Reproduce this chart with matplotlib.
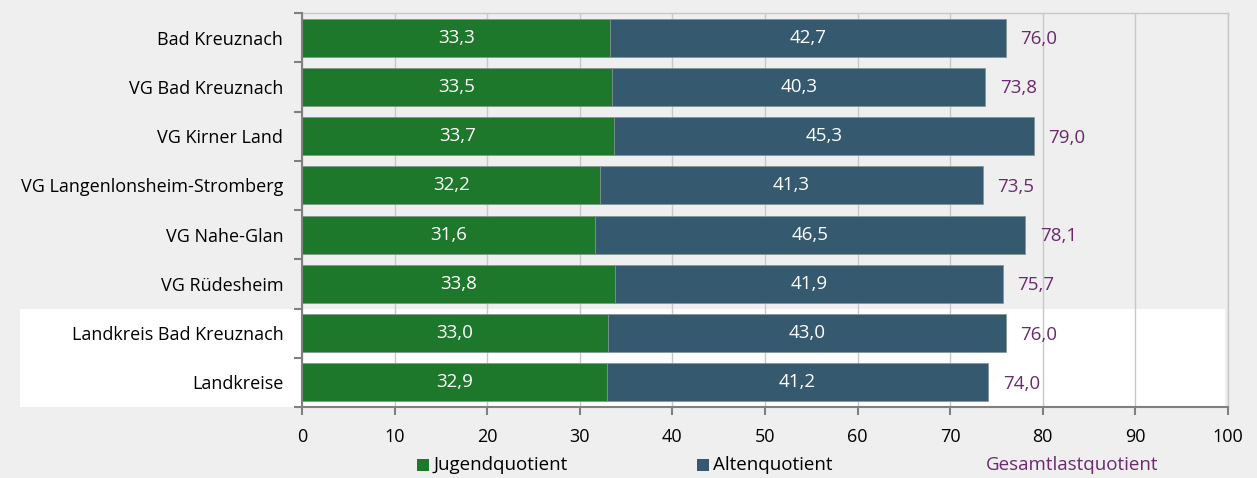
import matplotlib
matplotlib.use("Agg")
import matplotlib.pyplot as plt
from matplotlib.patches import Rectangle
import numpy as np

categories = ["Bad Kreuznach", "VG Bad Kreuznach", "VG Kirner Land",
              "VG Langenlonsheim-Stromberg", "VG Nahe-Glan", "VG Rüdesheim",
              "Landkreis Bad Kreuznach", "Landkreise"]
jugend = [33.3, 33.5, 33.7, 32.2, 31.6, 33.8, 33.0, 32.9]
alten = [42.7, 40.3, 45.3, 41.3, 46.5, 41.9, 43.0, 41.2]
gesamt = [76.0, 73.8, 79.0, 73.5, 78.1, 75.7, 76.0, 74.0]
xticks = [0, 10, 20, 30, 40, 50, 60, 70, 80, 90, 100]

GREEN = "#1e782b"
BLUE = "#35596f"
PURPLE = "#6b2a6e"
BG = "#eeefee"

plt.rcParams['font.family'] = ['Open Sans', 'DejaVu Sans']

W, H = 1257, 478
fig = plt.figure(figsize=(W / 100, H / 100), dpi=100, facecolor=BG)
ax = fig.add_axes([302 / W, 1 - 407 / H, (1228 - 302) / W, (407 - 13) / H])
ax.set_facecolor('none')

# white band behind last two rows
fig.patches.append(Rectangle((20 / W, 1 - 407 / H), (1225 - 20) / W, (407 - 309) / H,
                             transform=fig.transFigure, facecolor='white',
                             edgecolor='none', zorder=-10))

y = np.arange(len(categories))
h = 0.77
ax.barh(y, jugend, height=h, color=GREEN, edgecolor='#7f9490', linewidth=0.5, zorder=3)
ax.barh(y, alten, left=jugend, height=h, color=BLUE, edgecolor='#7f9490', linewidth=0.5, zorder=3)

VFS = 13.5
for i in range(len(categories)):
    ax.text(jugend[i] / 2, y[i], f"{jugend[i]:.1f}".replace('.', ','), color='white',
            ha='center', va='center', fontsize=VFS, zorder=4)
    ax.text(jugend[i] + alten[i] / 2, y[i], f"{alten[i]:.1f}".replace('.', ','), color='white',
            ha='center', va='center', fontsize=VFS, zorder=4)
    ax.annotate(f"{gesamt[i]:.1f}".replace('.', ','), (jugend[i] + alten[i], y[i]),
                xytext=(10.5, -1), textcoords='offset points', color=PURPLE,
                ha='left', va='center', fontsize=VFS, zorder=4)

ax.set_xlim(0, 100)
ax.set_ylim(len(categories) - 0.5, -0.5)
ax.set_xticks(xticks)
ax.set_xticklabels([str(t) for t in xticks], fontsize=13)
ax.set_yticks(y)
ax.set_yticklabels(categories, fontsize=13)
ax.tick_params(axis='y', which='major', length=0, pad=13.5)
ax.set_yticks(np.arange(-0.5, len(categories), 1), minor=True)
ax.tick_params(axis='y', which='minor', length=6, color='#808080', width=1.5, direction='out')
ax.tick_params(axis='x', which='major', length=6, color='#808080', width=1.5, direction='out', pad=9)

ax.grid(axis='x', color='#c8c8c8', linewidth=1, zorder=0)
ax.set_axisbelow(True)
for s in ['left', 'bottom']:
    ax.spines[s].set_color('#808080')
    ax.spines[s].set_linewidth(1.5)
    ax.spines[s].set_zorder(5)
ax.spines['top'].set_color('#c8c8c8')
ax.spines['top'].set_linewidth(1)
ax.spines['right'].set_color('#c8c8c8')
ax.spines['right'].set_linewidth(1)

# legend
ly = 1 - 465 / H
LFS = 13.5
for x0, col, lab, tc in [(417, GREEN, "Jugendquotient", 'black'),
                        (697, BLUE, "Altenquotient", 'black')]:
    fig.patches.append(Rectangle((x0 / W, 1 - 471 / H), 12 / W, 12 / H,
                                 transform=fig.transFigure, facecolor=col, edgecolor='none'))
    fig.text((x0 + 16) / W, ly, lab, ha='left', va='center', fontsize=LFS, color=tc)
fig.text(986 / W, ly, "Gesamtlastquotient", ha='left', va='center', fontsize=LFS, color=PURPLE)

fig.savefig("out.png", dpi=100, facecolor=BG)
